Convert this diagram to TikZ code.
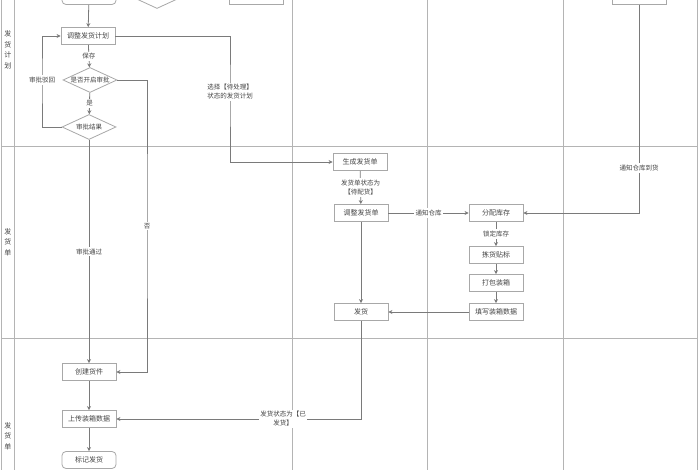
\documentclass[tikz,border=0pt]{standalone}
\usepackage{fontspec}
\setmainfont{Noto Sans CJK SC}
\usetikzlibrary{shapes.geometric,arrows.meta}
\definecolor{lanec}{HTML}{B4B4B4}
\definecolor{linec}{HTML}{7A7A7A}
\definecolor{boxc}{HTML}{A8A8A8}
\definecolor{txtc}{HTML}{444444}
\tikzset{
  box/.style={draw=boxc, fill=white, line width=0.8pt, minimum width=54pt, minimum height=17pt, inner sep=1pt, text=txtc, font=\fontsize{7}{8}\selectfont},
  rbox/.style={box, rounded corners=4pt},
  dia/.style={draw=boxc, fill=white, line width=0.8pt, diamond, minimum width=54pt, minimum height=25pt, inner sep=0pt},
  dtxt/.style={text=txtc, font=\fontsize{6.5}{8}\selectfont, inner sep=0pt},
  lbl/.style={fill=white, text=txtc, font=\fontsize{6.5}{9}\selectfont, inner sep=1.5pt, align=center},
  lane/.style={draw=lanec, line width=0.9pt},
  conn/.style={draw=linec, line width=0.8pt},
  arr/.style={conn, -{Stealth[length=4pt,width=4pt]}},
  lanetxt/.style={text=txtc, font=\fontsize{7}{10.5}\selectfont, align=center, inner sep=0pt}
}
\begin{document}
\begin{tikzpicture}[x=1pt,y=-1pt]
\useasboundingbox (0,0) rectangle (700,470);
\clip (0,0) rectangle (700,470);
\fill[white] (0,0) rectangle (700,470);
% lanes
\draw[lane] (1,-10) -- (1,480);
\draw[lane] (14,-10) -- (14,480);
\draw[lane] (292,-10) -- (292,480);
\draw[lane] (427,-10) -- (427,480);
\draw[lane] (563,-10) -- (563,480);
\draw[lane] (697,-10) -- (697,480);
\draw[lane] (1,146) -- (697,146);
\draw[lane] (1,338) -- (697,338);
\node[lanetxt] (lt1) at (8,50) {发\\货\\计\\划};
\node[lanetxt] (lt2) at (8,242) {发\\货\\单};
\node[lanetxt] (lt3) at (8,436) {发\\货\\单};
% nodes
\node[rbox] (topA) at (89,-4) {};
\node[dia] (topD) at (157,-4) {};
\node[box] (topB) at (256,-4) {};
\node[box] (topR) at (639,-4) {};
\node[box] (plan) at (88,36) {调整发货计划};
\node[dia] (d1) at (90,80) {};
\node[dtxt] (d1t) at (d1) {是否开启审批};
\node[dia] (d2) at (89,127) {};
\node[dtxt] (d2t) at (d2) {审批结果};
\node[box] (create) at (89,372) {创建货件};
\node[box] (upload) at (89,419) {上传装箱数据};
\node[rbox] (mark) at (89,460) {标记发货};
\node[box] (gen) at (360,162) {生成发货单};
\node[box] (adj) at (361,213) {调整发货单};
\node[box] (ship) at (361,312) {发货};
\node[box] (alloc) at (496,213) {分配库存};
\node[box] (pick) at (496,255) {拣货贴标};
\node[box] (pack) at (496,283) {打包装箱};
\node[box] (fill) at (496,312) {填写装箱数据};
% helper coordinates
\coordinate (c1) at (230,92);
\coordinate (c2) at (42,80);
\coordinate (c3) at (147,226);
\coordinate (c4) at (639,168);
\coordinate (c5) at (283,419);
% connectors
\draw[arr] (topD.east) -- (topB.west);
\draw[arr] (topA) -- (plan);
\draw[arr] (plan) -- node[lbl]{保存} (d1);
\draw[arr] (d1) -- node[lbl]{是} (d2);
\draw[arr] (d2.west) -| (c2) |- (plan.west);
\node[lbl] at (c2) {审批驳回};
\draw[arr] (d1.east) -| (c3) |- (create.east);
\node[lbl] at (c3) {否};
\draw[arr] (d2) -- node[lbl]{审批通过} (create);
\draw[arr] (create) -- (upload);
\draw[arr] (upload) -- (mark);
\draw[arr] (plan.east) -| (c1) |- (gen.west);
\node[lbl] at (c1) {选择【待处理】\\状态的发货计划};
\draw[arr] (gen) -- node[lbl]{发货单状态为\\【待配货】} (adj);
\draw[arr] (adj) -- node[lbl]{通知仓库} (alloc);
\draw[arr] (topR.south) |- (alloc.east);
\node[lbl] at (c4) {通知仓库到货};
\draw[arr] (alloc) -- node[lbl]{锁定库存} (pick);
\draw[arr] (pick) -- (pack);
\draw[arr] (pack) -- (fill);
\draw[arr] (fill) -- (ship);
\draw[arr] (adj) -- (ship);
\draw[arr] (ship.south) |- (upload.east);
\node[lbl] at (c5) {发货状态为【已\\发货】};
\end{tikzpicture}
\end{document}
